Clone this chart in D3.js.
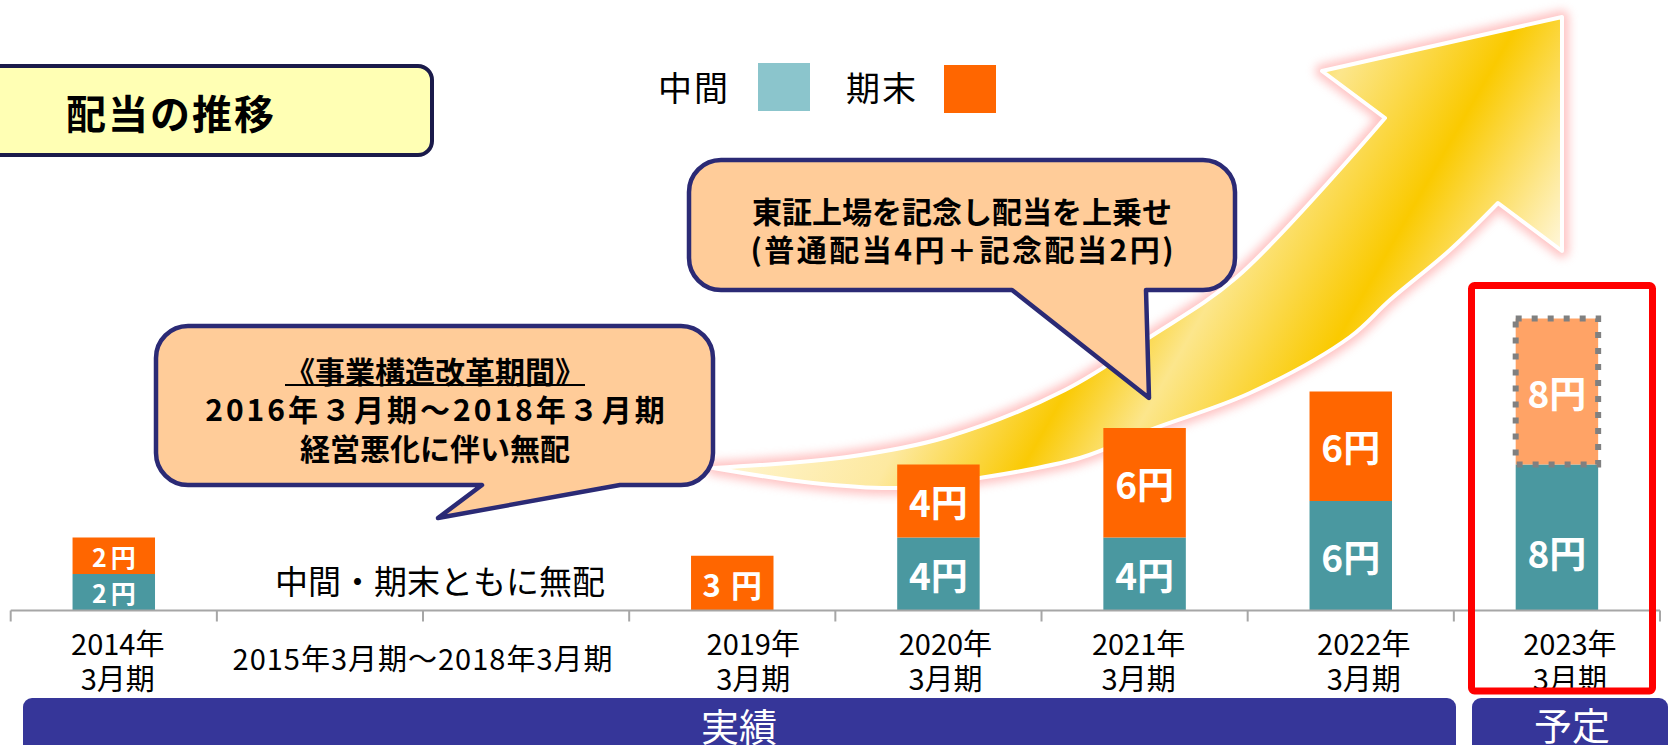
<!DOCTYPE html>
<html lang="ja">
<head>
<meta charset="utf-8">
<script src="https://cdn.jsdelivr.net/npm/d3@7"></script>
<style>
html,body{margin:0;padding:0;background:#fff;overflow:hidden;}
svg{display:block;font-family:"Noto Sans CJK JP","Noto Sans",sans-serif;}
</style>
</head>
<body>
<div id="chart"></div>
<script>
// data
let categories = ["2014","2015-16","2017-18","2019","2020","2021","2022","2023"];
let interim = [2,0,0,0,4,4,6,8];
let yearEnd = [2,0,0,3,4,6,6,8];
let planned = [false,false,false,false,false,false,false,true];
let tickLabels = [["2014年","3月期"],null,null,["2019年","3月期"],["2020年","3月期"],["2021年","3月期"],["2022年","3月期"],["2023年","3月期"]];
let spanLabel = "2015年3月期～2018年3月期";
let legendNames = ["中間","期末"];

// layout
let width = 1671, height = 745;
let labelNudge = [4,0,0,21,7,-6,13,13];
let teal = "#4A98A0", orange = "#FF6600", orangeLight = "#FFA366", navy = "#363699";

let svg = d3.select("#chart").append("svg")
  .attr("width", width).attr("height", height);
let defs = svg.append("defs");

let x = d3.scaleBand().domain(categories).range([10.7, 1660]).paddingInner(0.6).paddingOuter(0.3);
let y = d3.scaleLinear().domain([0,16]).range([610.5, 318.5]);
let step = x.step();

// ---- big arrow (decoration)
let grad = defs.append("linearGradient").attr("id","arrowGrad")
  .attr("gradientUnits","userSpaceOnUse")
  .attr("x1",713).attr("y1",468).attr("x2",1277).attr("y2",790);
[[0,"#FFF5D0"],[0.23,"#FDE9A0"],[0.414,"#FACA05"],[0.537,"#FCE68C"],[0.737,"#FACA00"],[0.968,"#FFF7DC"],[1,"#FFFAE8"]]
  .forEach(s => grad.append("stop").attr("offset",s[0]).attr("stop-color",s[1]));
defs.append("filter").attr("id","glow").attr("x","-20%").attr("y","-20%").attr("width","140%").attr("height","140%")
  .append("feGaussianBlur").attr("stdDeviation",5);

let upper = [[713,468],[847,457],[947,437],[1065,390],[1150,337],[1237,277],[1385,118]];
let lower = [[1498,203],[1450,250],[1390,300],[1350,337],[1250,393],[1150,430],[1080,458],[980,478],[897,488],[813,483],[713,468]];
let curve = d3.line().curve(d3.curveCatmullRom.alpha(0.5));
let arrowPath = curve(upper) + "L1322,71L1562,17L1562,251L" + curve(lower).slice(1) + "Z";

svg.append("path").attr("d", arrowPath)
  .attr("fill","#FF9E9E").attr("stroke","#FF9E9E").attr("stroke-width",14)
  .attr("stroke-linejoin","round").attr("opacity",0.6).attr("filter","url(#glow)");
svg.append("path").attr("d", arrowPath)
  .attr("fill","url(#arrowGrad)").attr("stroke","#fff").attr("stroke-width",4)
  .attr("stroke-linejoin","round");

// ---- title box
svg.append("rect").attr("x",-20).attr("y",66).attr("width",452).attr("height",89).attr("rx",14)
  .attr("fill","#FFFFB4").attr("stroke","#1A1A4A").attr("stroke-width",4);
svg.append("text").attr("x",171).attr("y",112).attr("text-anchor","middle").attr("dominant-baseline","central")
  .attr("font-size",40).attr("font-weight",700).attr("letter-spacing",2).text("配当の推移");

// ---- legend
let legend = svg.append("g");
[[658,758,63,"#8BC5CC"],[846,944,65,orange]].forEach((l,i) => {
  legend.append("text").attr("x",l[0]).attr("y",86).attr("dominant-baseline","central")
    .attr("font-size",34).attr("letter-spacing",2).text(legendNames[i]);
  legend.append("rect").attr("x",l[1]).attr("y",l[2]).attr("width",52).attr("height",48).attr("fill",l[3]);
});

// ---- bars
let segs = [];
categories.forEach((c,i) => {
  if (interim[i] > 0) segs.push({c, y0:0, y1:interim[i], v:interim[i], type:"interim"});
  if (yearEnd[i] > 0) segs.push({c, y0:interim[i], y1:interim[i]+yearEnd[i], v:yearEnd[i], type: planned[i] ? "plan" : "end"});
});
let fills = {interim: teal, end: orange, plan: orangeLight};

svg.append("g").selectAll("rect").data(segs).enter().append("rect")
  .attr("x", d => x(d.c)).attr("width", x.bandwidth())
  .attr("y", d => y(d.y1)).attr("height", d => y(d.y0) - y(d.y1))
  .attr("fill", d => fills[d.type])
  .attr("stroke", d => d.type === "plan" ? "#808080" : "none")
  .attr("stroke-width", 6).attr("stroke-dasharray", d => d.type === "plan" ? "6 10" : null);

svg.append("g").selectAll("text").data(segs).enter().append("text")
  .each(function(d){
    let h = y(d.y0) - y(d.y1);
    let fs = h < 40 ? 25 : h < 60 ? 31 : 37;
    let ls = h < 40 ? 4 : h < 60 ? 10 : 0;
    d3.select(this).attr("font-size", fs).attr("letter-spacing", ls).attr("dx", ls/2);
  })
  .attr("x", d => x(d.c) + x.bandwidth()/2)
  .attr("y", d => (y(d.y0) + y(d.y1))/2 + (d.type === "interim" && d.v > 6 ? 14 : 0))
  .attr("text-anchor","middle").attr("dominant-baseline","central")
  .attr("fill","#fff").attr("font-weight",700)
  .text(d => d.v + "円");

// ---- axis
let axis = svg.append("g").attr("stroke","#A6A6A6").attr("stroke-width",2);
axis.append("line").attr("x1",10.7).attr("x2",1660).attr("y1",y(0)).attr("y2",y(0));
let bounds = categories.map(c => x(c) - step*0.3).concat([1660]);
axis.selectAll("line.tick").data(bounds).enter().append("line").attr("class","tick")
  .attr("x1", d => d).attr("x2", d => d).attr("y1", y(0)).attr("y2", y(0)+11);

let tl = svg.append("g").attr("font-size",29).attr("text-anchor","middle");
categories.forEach((c,i) => {
  if (!tickLabels[i]) return;
  let cx = x(c) + x.bandwidth()/2 + labelNudge[i];
  tl.append("text").attr("x",cx).attr("y",642).attr("dominant-baseline","central").text(tickLabels[i][0]);
  tl.append("text").attr("x",cx).attr("y",677).attr("dominant-baseline","central").text(tickLabels[i][1]);
});
tl.append("text").attr("x", x(categories[2]) - step*0.3).attr("y",657).attr("dominant-baseline","central")
  .attr("letter-spacing",1).text(spanLabel);

svg.append("text").attr("x",440).attr("y",580).attr("text-anchor","middle").attr("dominant-baseline","central")
  .attr("font-size",33).text("中間・期末ともに無配");

// ---- callouts
function callout(x0,y0,x1,y1,r,bl,br,tip){
  return "M"+(x0+r)+","+y0+"H"+(x1-r)+"A"+r+","+r+" 0 0 1 "+x1+","+(y0+r)+
    "V"+(y1-r)+"A"+r+","+r+" 0 0 1 "+(x1-r)+","+y1+
    "H"+br+"L"+tip[0]+","+tip[1]+"L"+bl+","+y1+
    "H"+(x0+r)+"A"+r+","+r+" 0 0 1 "+x0+","+(y1-r)+
    "V"+(y0+r)+"A"+r+","+r+" 0 0 1 "+(x0+r)+","+y0+"Z";
}
svg.append("path").attr("d", callout(156,326,713,485,32,482,620,[438,518]))
  .attr("fill","#FFCC99").attr("stroke","#2B2A75").attr("stroke-width",4.5).attr("stroke-linejoin","round");
svg.append("path").attr("d", callout(689,160,1235,290,32,1012,1146,[1149,398]))
  .attr("fill","#FFCC99").attr("stroke","#2B2A75").attr("stroke-width",4.5).attr("stroke-linejoin","round");

let c1 = svg.append("g").attr("font-weight",700).attr("text-anchor","middle").attr("font-size",30);
let t1 = c1.append("text").attr("x",435).attr("y",370).attr("dominant-baseline","central").text("《事業構造改革期間》");
c1.append("text").attr("x",435).attr("y",408).attr("dominant-baseline","central").attr("letter-spacing",3).attr("dx",1.5).text("2016年３月期～2018年３月期");
c1.append("text").attr("x",435).attr("y",447).attr("dominant-baseline","central").text("経営悪化に伴い無配");
let w1 = t1.node().getComputedTextLength();
c1.append("line").attr("x1",435-w1/2).attr("x2",435+w1/2).attr("y1",385).attr("y2",385)
  .attr("stroke","#000").attr("stroke-width",2);

let c2 = svg.append("g").attr("font-weight",700).attr("text-anchor","middle").attr("font-size",30);
c2.append("text").attr("x",962).attr("y",210).attr("dominant-baseline","central").text("東証上場を記念し配当を上乗せ");
c2.append("text").attr("x",962).attr("y",248).attr("dominant-baseline","central").attr("letter-spacing",2.5).attr("dx",1.25).text("(普通配当4円＋記念配当2円)");

// ---- forecast frame
svg.append("rect").attr("x",1471.5).attr("y",285.5).attr("width",181).attr("height",405.5).attr("rx",3)
  .attr("fill","none").attr("stroke","#FF0000").attr("stroke-width",7);

// ---- bottom bands
svg.append("rect").attr("x",23).attr("y",698).attr("width",1433).attr("height",70).attr("rx",9).attr("fill",navy);
svg.append("rect").attr("x",1472).attr("y",698).attr("width",196).attr("height",70).attr("rx",9).attr("fill",navy);
svg.append("text").attr("x",739).attr("y",724).attr("text-anchor","middle").attr("dominant-baseline","central")
  .attr("font-size",38).attr("fill","#fff").text("実績");
svg.append("text").attr("x",1572).attr("y",723).attr("text-anchor","middle").attr("dominant-baseline","central")
  .attr("font-size",38).attr("fill","#fff").text("予定");
</script>
</body>
</html>
